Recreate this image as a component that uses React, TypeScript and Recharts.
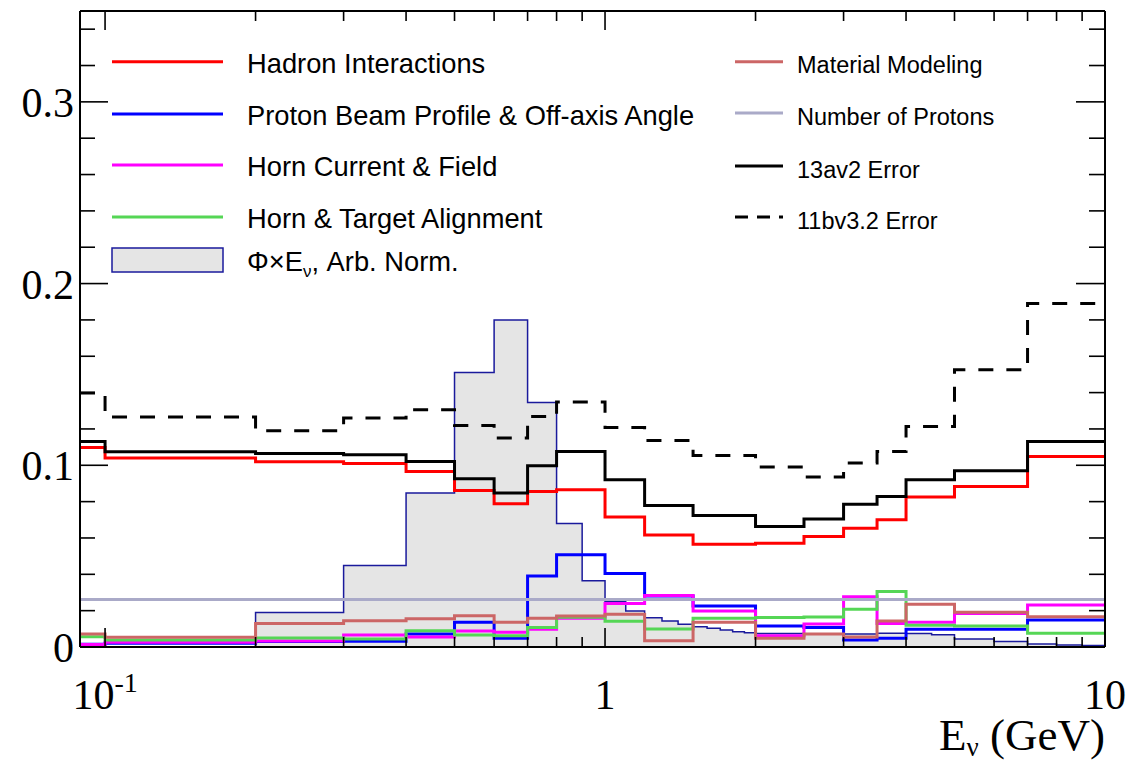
import React from 'react';
import { ComposedChart, Line, Area, XAxis, YAxis, Legend } from 'recharts';

// ---------------- data ----------------
const X_MIN = 0.0891; // left edge of the energy axis (GeV)
const X_MAX = 10;

// error bins (GeV); first bin (0-0.1) is clipped at the axis minimum
const binEdges = [X_MIN, 0.1, 0.2, 0.3, 0.4, 0.5, 0.6, 0.7, 0.8, 1.0, 1.2, 1.5, 2.0, 2.5, 3.0, 3.5, 4.0, 5.0, 7.0, 10.0];

const hadronInteractions = [0.1098, 0.104, 0.102, 0.101, 0.0966, 0.0861, 0.0788, 0.0856, 0.0865, 0.0715, 0.0617, 0.0566, 0.0571, 0.0608, 0.0654, 0.070, 0.0825, 0.0883, 0.1048];
const protonBeam = [0.0015, 0.002, 0.003, 0.0031, 0.0072, 0.0136, 0.0048, 0.0391, 0.0507, 0.0404, 0.028, 0.0226, 0.0116, 0.0108, 0.0039, 0.0048, 0.0097, 0.0097, 0.0149];
const hornCurrent = [0.0014, 0.0026, 0.0033, 0.0066, 0.0055, 0.0088, 0.0081, 0.0097, 0.0158, 0.024, 0.0283, 0.0198, 0.0062, 0.0127, 0.0277, 0.013, 0.0136, 0.0185, 0.0231];
const hornAlignment = [0.0057, 0.0039, 0.005, 0.0044, 0.009, 0.0066, 0.0062, 0.0108, 0.0164, 0.0142, 0.0099, 0.0158, 0.0162, 0.0165, 0.0208, 0.0305, 0.012, 0.0116, 0.0075];
const materialModeling = [0.0072, 0.0053, 0.013, 0.0145, 0.0156, 0.0172, 0.0136, 0.0158, 0.0171, 0.018, 0.0035, 0.0136, 0.0048, 0.0072, 0.0055, 0.0143, 0.0235, 0.0191, 0.0167];
const numberOfProtons = [0.0262, 0.0262, 0.0262, 0.0262, 0.0262, 0.0262, 0.0262, 0.0262, 0.0262, 0.0262, 0.0262, 0.0262, 0.0262, 0.0262, 0.0262, 0.0262, 0.0262, 0.0262, 0.0262];
const error13av2 = [0.1131, 0.1074, 0.1065, 0.1058, 0.1021, 0.0926, 0.0847, 0.0997, 0.1076, 0.092, 0.0779, 0.0724, 0.0663, 0.0705, 0.0786, 0.0828, 0.092, 0.097, 0.1131];
const error11bv32 = [0.1398, 0.1266, 0.119, 0.126, 0.1306, 0.1219, 0.115, 0.1269, 0.1348, 0.1208, 0.1137, 0.1054, 0.099, 0.0935, 0.1012, 0.1076, 0.1214, 0.1526, 0.189];

// flux x E (arbitrary normalisation), finer binning
const fluxEdges = [0.1, 0.2, 0.3, 0.4, 0.5, 0.6, 0.7, 0.8, 0.9, 1.0, 1.1, 1.2, 1.3, 1.4, 1.5, 1.6, 1.7, 1.8, 1.9, 2.0, 2.5, 3.0, 3.5, 4.0, 4.5, 5.0, 6.0, 7.0, 8.0, 9.0, 10.0];
const fluxTimesE = [0, 0.019, 0.0448, 0.0847, 0.151, 0.180, 0.1345, 0.068, 0.0365, 0.025, 0.0198, 0.0161, 0.0143, 0.0125, 0.0112, 0.0103, 0.0094, 0.0084, 0.0079, 0.0074, 0.0070, 0.0072, 0.0075, 0.0074, 0.0068, 0.0044, 0.0030, 0.0017, 0.0011, 0.0008];

// axis ticks
const yTicks = [0, 0.02, 0.04, 0.06, 0.08, 0.1, 0.12, 0.14, 0.16, 0.18, 0.2, 0.22, 0.24, 0.26, 0.28, 0.3, 0.32, 0.34];
const yMajorTicks = [0, 0.1, 0.2, 0.3];
const yTickLabels = ['0', '0.1', '0.2', '0.3'];
const xTicks = [0.1, 0.2, 0.3, 0.4, 0.5, 0.6, 0.7, 0.8, 0.9, 1, 2, 3, 4, 5, 6, 7, 8, 9, 10];
const xMajorTicks = [0.1, 1, 10];

// legend labels
const legendLeftLabels = ['Hadron Interactions', 'Proton Beam Profile & Off-axis Angle', 'Horn Current & Field', 'Horn & Target Alignment'];
const legendRightLabels = ['Material Modeling', 'Number of Protons', '13av2 Error', '11bv3.2 Error'];

// ---------------- styles ----------------
const SERIF = '"Liberation Serif", "Times New Roman", Times, serif';
const SANS = '"Liberation Sans", Arial, Helvetica, sans-serif';
const C = {
  hadron: '#ff0000',
  beam: '#0000ff',
  horn: '#ff00ff',
  align: '#55d655',
  material: '#cc6666',
  protons: '#aaaac8',
  e13: '#000000',
  e11: '#000000',
  fluxFill: '#e5e5e5',
  fluxLine: '#1a1a9c',
};
const LW = 3;
const DASH_PLOT = '15 13';
const DASH_LEGEND = '13 9';

function toSteps(edges: number[], values: number[]) {
  const pts = values.map((v, i) => ({ E: edges[i], v }));
  pts.push({ E: edges[values.length], v: values[values.length - 1] });
  return pts;
}

const isMajorY = (v: number) => yMajorTicks.some((m) => Math.abs(m - v) < 1e-9);
const isMajorX = (v: number) => xMajorTicks.some((m) => Math.abs(m - v) < 1e-9);

function LeftTick(props: any) {
  const { x, y, payload } = props;
  const v = payload.value;
  const major = isMajorY(v);
  const idx = yMajorTicks.findIndex((m) => Math.abs(m - v) < 1e-9);
  return (
    <g>
      <line x1={x} y1={y} x2={x + (major ? 28 : 15)} y2={y} stroke="#000" strokeWidth={1.6} />
      {major && (
        <text x={x - 6} y={y + 15} textAnchor="end" fontFamily={SERIF} fontSize={42} fill="#000">
          {yTickLabels[idx]}
        </text>
      )}
    </g>
  );
}

function RightTick(props: any) {
  const { x, y, payload } = props;
  const major = isMajorY(payload.value);
  return <line x1={x} y1={y} x2={x - (major ? 29 : 16)} y2={y} stroke="#000" strokeWidth={1.6} />;
}

function TopTick(props: any) {
  const { x, y, payload } = props;
  const major = isMajorX(payload.value);
  return <line x1={x} y1={y} x2={x} y2={y + (major ? 19 : 10)} stroke="#000" strokeWidth={1.6} />;
}

function BottomTick(props: any) {
  const { x, y, payload } = props;
  const v = payload.value;
  const major = isMajorX(v);
  let label: React.ReactNode = null;
  if (major) {
    if (Math.abs(v - 0.1) < 1e-9) {
      label = (
        <text x={x} y={y + 62} textAnchor="middle" fontFamily={SERIF} fontSize={42} fill="#000">
          10<tspan dy={-17} fontSize={28}>-1</tspan>
        </text>
      );
    } else {
      label = (
        <text x={x} y={y + 62} textAnchor="middle" fontFamily={SERIF} fontSize={42} fill="#000">
          {String(v)}
        </text>
      );
    }
  }
  return (
    <g>
      <line x1={x} y1={y} x2={x} y2={y - (major ? 19 : 10)} stroke="#000" strokeWidth={1.6} />
      {label}
    </g>
  );
}

function AxisTitle(props: any) {
  const vb = props.viewBox || { x: 80, y: 647, width: 1025, height: 118 };
  return (
    <text x={vb.x + vb.width} y={vb.y + 103} textAnchor="end" fontFamily={SERIF} fontSize={45} fill="#000">
      E<tspan dy={6} fontSize={27}>ν</tspan>
      <tspan dy={-6} fontSize={45}> (GeV)</tspan>
    </text>
  );
}

function LegendBox() {
  const leftColors = [C.hadron, C.beam, C.horn, C.align];
  const leftRows = [61.7, 114, 165, 217];
  const rightColors = [C.material, C.protons, C.e13, C.e11];
  const rightRows = [61.7, 113, 166, 217];
  return (
    <svg width={1132} height={290} style={{ display: 'block' }}>
      {legendLeftLabels.map((lab, i) => (
        <g key={lab}>
          <line x1={112} x2={223} y1={leftRows[i]} y2={leftRows[i]} stroke={leftColors[i]} strokeWidth={LW} />
          <text x={247} y={leftRows[i] + 11} fontFamily={SANS} fontSize={27.3} fill="#000">{lab}</text>
        </g>
      ))}
      <rect x={112} y={248} width={111} height={24} fill={C.fluxFill} stroke={C.fluxLine} strokeWidth={1.5} />
      <text x={247} y={271} fontFamily={SANS} fontSize={27.3} fill="#000">
        Φ×E<tspan dy={6} fontSize={17}>ν</tspan><tspan dy={-6}>, Arb. Norm.</tspan>
      </text>
      {legendRightLabels.map((lab, i) => (
        <g key={lab}>
          <line
            x1={735}
            x2={783}
            y1={rightRows[i]}
            y2={rightRows[i]}
            stroke={rightColors[i]}
            strokeWidth={LW}
            strokeDasharray={i === 3 ? DASH_LEGEND : undefined}
          />
          <text x={797} y={rightRows[i] + 11.5} fontFamily={SANS} fontSize={23.5} fill="#000">{lab}</text>
        </g>
      ))}
    </svg>
  );
}

export default function App() {
  const common = { type: 'stepAfter' as const, dataKey: 'v', dot: false, activeDot: false, isAnimationActive: false };
  return (
    <div style={{ position: 'absolute', left: 0, top: 0, width: 1132, height: 765, background: '#fff' }}>
      <ComposedChart width={1132} height={765} margin={{ top: 10, right: 26, bottom: 0, left: 0 }}>
        <Area
          {...common}
          data={toSteps(fluxEdges, fluxTimesE)}
          stroke={C.fluxLine}
          strokeWidth={1.5}
          fill={C.fluxFill}
          fillOpacity={1}
        />
        <Line {...common} data={toSteps(binEdges, hadronInteractions)} stroke={C.hadron} strokeWidth={LW} />
        <Line {...common} data={toSteps(binEdges, protonBeam)} stroke={C.beam} strokeWidth={LW} />
        <Line {...common} data={toSteps(binEdges, hornCurrent)} stroke={C.horn} strokeWidth={LW} />
        <Line {...common} data={toSteps(binEdges, hornAlignment)} stroke={C.align} strokeWidth={LW} />
        <Line {...common} data={toSteps(binEdges, materialModeling)} stroke={C.material} strokeWidth={LW} />
        <Line {...common} data={toSteps(binEdges, numberOfProtons)} stroke={C.protons} strokeWidth={LW} />
        <Line {...common} data={toSteps(binEdges, error13av2)} stroke={C.e13} strokeWidth={LW} />
        <Line {...common} data={toSteps(binEdges, error11bv32)} stroke={C.e11} strokeWidth={LW} strokeDasharray={DASH_PLOT} />

        <XAxis
          dataKey="E"
          type="number"
          scale="log"
          domain={[X_MIN, X_MAX]}
          allowDataOverflow
          ticks={xTicks}
          interval={0}
          height={118}
          tickSize={0}
          tickMargin={0}
          tickLine={false}
          tick={<BottomTick />}
          axisLine={{ stroke: '#000', strokeWidth: 2 }}
          label={{ content: <AxisTitle /> }}
        />
        <XAxis
          xAxisId="top"
          orientation="top"
          dataKey="E"
          type="number"
          scale="log"
          domain={[X_MIN, X_MAX]}
          allowDataOverflow
          ticks={xTicks}
          interval={0}
          height={1}
          tickSize={0}
          tickMargin={0}
          tickLine={false}
          tick={<TopTick />}
          axisLine={{ stroke: '#000', strokeWidth: 2 }}
        />
        <YAxis
          type="number"
          domain={[0, 0.35]}
          allowDataOverflow
          ticks={yTicks}
          interval={0}
          width={80}
          tickSize={0}
          tickMargin={0}
          tickLine={false}
          tick={<LeftTick />}
          axisLine={{ stroke: '#000', strokeWidth: 2 }}
        />
        <YAxis
          yAxisId="right"
          orientation="right"
          type="number"
          domain={[0, 0.35]}
          allowDataOverflow
          ticks={yTicks}
          interval={0}
          width={1}
          tickSize={0}
          tickMargin={0}
          tickLine={false}
          tick={<RightTick />}
          axisLine={{ stroke: '#000', strokeWidth: 2 }}
        />
        <Legend
          layout="horizontal"
          verticalAlign="middle"
          align="center"
          content={() => <LegendBox />}
          wrapperStyle={{ position: 'absolute', left: 0, top: 0, width: 1132, height: 290, pointerEvents: 'none' }}
        />
      </ComposedChart>
    </div>
  );
}
